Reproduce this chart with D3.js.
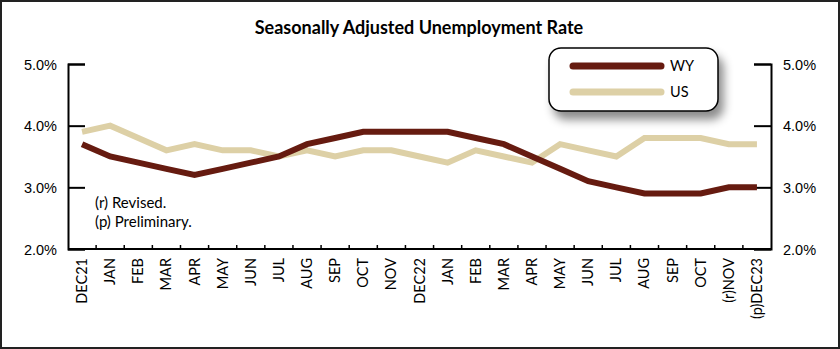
<!DOCTYPE html>
<html><head><meta charset="utf-8">
<script src="https://cdn.jsdelivr.net/npm/d3@7"></script>
<style>
html,body{margin:0;padding:0;background:#fff;}
svg{display:block;font-family:Lato,"Open Sans",sans-serif;}
</style></head>
<body>
<svg id="c" width="840" height="349"></svg>
<script>
const categories = ["DEC21","JAN","FEB","MAR","APR","MAY","JUN","JUL","AUG","SEP","OCT","NOV","DEC22","JAN","FEB","MAR","APR","MAY","JUN","JUL","AUG","SEP","OCT","(r)NOV","(p)DEC23"];
const wyValues = [3.7,3.5,3.4,3.3,3.2,3.3,3.4,3.5,3.7,3.8,3.9,3.9,3.9,3.9,3.8,3.7,3.5,3.3,3.1,3.0,2.9,2.9,2.9,3.0,3.0];
const usValues = [3.9,4.0,3.8,3.6,3.7,3.6,3.6,3.5,3.6,3.5,3.6,3.6,3.5,3.4,3.6,3.5,3.4,3.7,3.6,3.5,3.8,3.8,3.8,3.7,3.7];
const yTicks = [2,3,4,5];
const seriesNames = ["WY","US"];
const colors = {WY:"#661b10", US:"#ddd0a6"};

const svg = d3.select("#c");
const W = 840, H = 349;
const m = {l:68, r:771, t:64, b:249};

svg.append("rect").attr("x",1).attr("y",1).attr("width",W-2).attr("height",H-2)
  .attr("fill","#fff").attr("stroke","#222").attr("stroke-width",2);

const x = d3.scaleBand().domain(categories.map((c,i)=>i)).range([m.l,m.r]);
const y = d3.scaleLinear().domain([2,5]).range([m.b,m.t]);

// title
svg.append("text").attr("x",419).attr("y",34).attr("text-anchor","middle")
  .attr("font-size",18).attr("font-weight","bold").text("Seasonally Adjusted Unemployment Rate");

// left axis
const fmt = d => d.toFixed(1)+"%";
const gl = svg.append("g").attr("transform",`translate(${m.l},0)`)
  .call(d3.axisRight(y).tickValues(yTicks).tickSize(17).tickFormat(""));
gl.select(".domain").attr("stroke","#000").attr("stroke-width",2);
gl.selectAll(".tick line").attr("stroke","#000").attr("stroke-width",2);
gl.selectAll(".tick").append("text").attr("x",-11).attr("dy","0.35em")
  .attr("text-anchor","end").attr("fill","#000").attr("font-size",14.5).text(fmt);

const gr = svg.append("g").attr("transform",`translate(${m.r},0)`)
  .call(d3.axisLeft(y).tickValues(yTicks).tickSize(17).tickFormat(""));
gr.select(".domain").attr("stroke","#000").attr("stroke-width",2);
gr.selectAll(".tick line").attr("stroke","#000").attr("stroke-width",2);
gr.selectAll(".tick").append("text").attr("x",12).attr("dy","0.35em")
  .attr("text-anchor","start").attr("fill","#000").attr("font-size",14.5).text(fmt);

// x axis
const xb = d3.scaleLinear().domain([0,categories.length]).range([m.l,m.r]);
const gx = svg.append("g").attr("transform",`translate(0,${m.b})`);
gx.append("line").attr("x1",m.l).attr("x2",m.r).attr("stroke","#000").attr("stroke-width",2);
gx.selectAll("line.tk").data(d3.range(1,categories.length)).join("line").attr("class","tk")
  .attr("x1",d=>xb(d)).attr("x2",d=>xb(d)).attr("y1",0).attr("y2",-4)
  .attr("stroke","#000").attr("stroke-width",1.5);
gx.selectAll("text").data(categories).join("text")
  .attr("transform",(d,i)=>`translate(${x(i)+x.bandwidth()/2+5},9) rotate(-90)`)
  .attr("text-anchor","end").attr("font-size",14.5).attr("fill","#000").text(d=>d);

// lines
const line = d3.line().x((d,i)=>x(i)+x.bandwidth()/2).y(d=>y(d));
svg.append("path").datum(usValues).attr("d",line).attr("fill","none")
  .attr("stroke",colors.US).attr("stroke-width",6).attr("stroke-linejoin","miter");
svg.append("path").datum(wyValues).attr("d",line).attr("fill","none")
  .attr("stroke",colors.WY).attr("stroke-width",6).attr("stroke-linejoin","miter");

// notes
svg.append("text").attr("x",95).attr("y",208).attr("font-size",15).text("(r) Revised.");
svg.append("text").attr("x",95).attr("y",227).attr("font-size",15).text("(p) Preliminary.");

// legend
const defs = svg.append("defs");
const f = defs.append("filter").attr("id","sh").attr("x","-20%").attr("y","-20%").attr("width","150%").attr("height","170%");
f.append("feDropShadow").attr("dx",5).attr("dy",8).attr("stdDeviation",5).attr("flood-color","#000").attr("flood-opacity",0.45);
const lg = svg.append("g").attr("transform","translate(549,48)");
lg.append("rect").attr("width",169).attr("height",63).attr("rx",12).attr("fill","#fff")
  .attr("stroke","#000").attr("stroke-width",1.5).attr("filter","url(#sh)");
seriesNames.forEach((s,i)=>{
  const yy = 18 + i*26;
  lg.append("line").attr("x1",24).attr("x2",112).attr("y1",yy).attr("y2",yy)
    .attr("stroke",colors[s]).attr("stroke-width",7).attr("stroke-linecap","round");
  lg.append("text").attr("x",121).attr("y",yy).attr("dy","0.35em").attr("font-size",14.5).text(s);
});
</script>
</body></html>
